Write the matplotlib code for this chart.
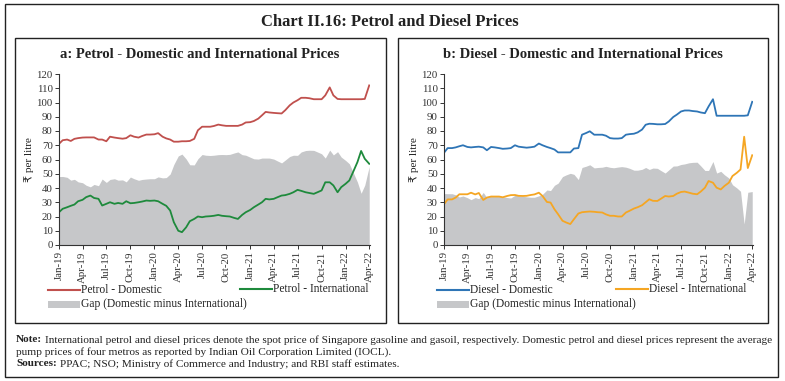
import numpy as np
import pandas as pd
import matplotlib
matplotlib.use('Agg')
import matplotlib.pyplot as plt
from matplotlib.patches import Rectangle
from matplotlib.lines import Line2D

plt.rcParams['font.family'] = ['Liberation Serif', 'DejaVu Sans']

# semi-monthly observations (1st and 15th), Jan-2019 to Apr-2022
dates = pd.date_range('2019-01-01', '2022-04-01', freq='SMS')

petrol_dom = [71, 73.5, 74, 73, 74.5, 75, 75.4, 75.5, 75.5, 75.5, 74, 74,
              72.8, 76, 75.4, 75, 74.6, 75, 77, 76, 75.4, 76.5, 77.5, 77.5,
              77.7, 78.5, 76, 74.8, 74, 72.5, 72.5, 72.8, 72.8, 73, 74.5, 80.5,
              83, 83, 83, 83.5, 84.5, 84, 83.6, 83.6, 83.6, 83.6, 84.5, 86,
              86.2, 87, 88.7, 91, 93.4, 93, 92.7, 92.5, 92.3, 94.6, 98, 100,
              101.6, 103.3, 103.3, 103, 102.3, 102.3, 102.3, 105, 110.6, 105, 102.5, 102.3,
              102.3, 102.3, 102.3, 102.3, 102.3, 102.5, 112]
petrol_int = [23, 25.4, 26.5, 27.5, 28.4, 30.7, 31.7, 33.6, 34.7, 33, 32.4, 27.7,
              28.9, 30, 28.9, 29.5, 28.9, 30.7, 29.3, 29.5, 30, 30.5, 31.2, 31,
              31.2, 30.7, 28.9, 27.5, 24.2, 16, 10, 9, 12.4, 16.7, 18.3, 20,
              19.5, 20, 20.2, 20.5, 21.1, 20.5, 20.2, 20, 19, 18.3, 21.1, 23,
              24.6, 26.5, 28.4, 30, 32.4, 32, 32.4, 33.5, 34.7, 35, 35.9, 37,
              38.7, 38, 37, 36.5, 35.9, 37, 38.3, 44, 44, 41.8, 37, 40.6,
              43, 45.3, 52.3, 58.2, 66, 60.5, 57]
diesel_dom = [64.7, 68, 68, 68.5, 69.3, 70, 68.8, 68.5, 68.8, 69, 68.5, 66.5,
              68.8, 68.5, 68, 67.5, 67.7, 68, 70, 69, 68.6, 68.3, 68.6, 69,
              71.2, 70, 68.8, 68, 67, 65, 65, 65, 65, 67.7, 68, 77.4,
              78.6, 79.8, 77.4, 77.4, 77.4, 76.7, 75, 74.7, 74.7, 75, 77.4, 77.8,
              78.1, 79, 81, 84.4, 85.1, 85, 84.7, 84.7, 84.9, 86.7, 89.8, 91.5,
              93.7, 94.4, 94.4, 94, 93.7, 93, 92.5, 97.2, 102.3, 90.7, 90.7, 90.7,
              90.7, 90.7, 90.7, 90.7, 90.7, 91, 100.5]
diesel_int = [28.6, 32, 32, 33.3, 35.6, 35.6, 35.6, 36.7, 35.5, 36.5, 31.6, 33.3,
              34, 34, 34, 33.5, 34.4, 35, 35.1, 34.5, 34.4, 34.5, 35.1, 35.5,
              36.7, 34.4, 30.2, 29.8, 25.1, 21.6, 17, 15.8, 14.7, 18.1, 22.1, 23,
              23.3, 23.5, 23.3, 23, 22.8, 21.5, 20.5, 20.5, 20, 20, 22.8, 24,
              25.6, 26.5, 27.9, 30, 32.1, 31, 30.9, 32.5, 34.4, 34, 34.4, 36,
              37.2, 37.5, 36.7, 36, 35.6, 37.5, 40.2, 44.9, 43.7, 40.2, 39, 41.4,
              43.7, 48.4, 50.7, 53, 76, 54, 63]

tick_dates = pd.date_range('2019-01-01', '2022-04-01', freq='3MS')
tick_labels = [d.strftime('%b-%y') for d in tick_dates]

W, H = 785, 381
fig = plt.figure(figsize=(W / 100, H / 100), dpi=100)

def fx(x):
    return x / W

def fy(y):
    return 1 - y / H

def box(x0, y0, x1, y1, lw=1.0):
    fig.patches.append(Rectangle((fx(x0), fy(y1)), fx(x1) - fx(x0), fy(y0) - fy(y1),
                                 transform=fig.transFigure, fill=False,
                                 edgecolor='#222222', linewidth=lw))

box(5, 4, 778, 377)
box(15, 38, 386, 323)
box(398, 38, 768, 323)

fig.text(fx(390), fy(22), 'Chart II.16: Petrol and Diesel Prices', ha='center', va='center',
         fontsize=12, fontweight='bold', color='#222222')

gap_color = '#c6c7c9'
txt = '#222222'

def panel(left, right, title, title_x, dom, intl, c_dom, c_int, lab_dom, lab_int, leg_x, leg2_x):
    ax = fig.add_axes([fx(left), fy(245), fx(right) - fx(left), fy(74) - fy(245)])
    dom = np.array(dom)
    intl = np.array(intl)
    ax.fill_between(dates, 0, dom - intl, color=gap_color, linewidth=0)
    ax.plot(dates, dom, color=c_dom, linewidth=1.3)
    ax.plot(dates, intl, color=c_int, linewidth=1.3)
    ax.set_ylim(0, 120)
    ax.set_yticks(range(0, 121, 10))
    ax.set_xlim(pd.Timestamp('2019-01-01'), pd.Timestamp('2022-04-04'))
    ax.set_xticks(tick_dates)
    ax.set_xticklabels(tick_labels, rotation=90)
    for s in ['top', 'right']:
        ax.spines[s].set_visible(False)
    for s in ['left', 'bottom']:
        ax.spines[s].set_color('#333333')
        ax.spines[s].set_linewidth(0.8)
    ax.tick_params(labelsize=7.8, length=3, width=0.7, colors='#333333', pad=1.5)
    ax.set_ylabel('₹ per litre', fontsize=8, color=txt, labelpad=2)
    fig.text(fx(title_x), fy(55), title, ha='center', va='center',
             fontsize=10.5, fontweight='bold', color=txt)
    # legend
    fig.lines.append(Line2D([fx(leg_x), fx(leg_x + 32)], [fy(290), fy(290)],
                            transform=fig.transFigure, color=c_dom, linewidth=1.5))
    fig.text(fx(leg_x + 33), fy(290), lab_dom, va='center', fontsize=8.3, color=txt)
    fig.lines.append(Line2D([fx(leg2_x), fx(leg2_x + 32)], [fy(289), fy(289)],
                            transform=fig.transFigure, color=c_int, linewidth=1.5))
    fig.text(fx(leg2_x + 33), fy(289), lab_int, va='center', fontsize=8.3, color=txt)
    fig.patches.append(Rectangle((fx(leg_x), fy(308)), fx(32), fy(0) - fy(7),
                                 transform=fig.transFigure, color=gap_color, linewidth=0))
    fig.text(fx(leg_x + 33), fy(304.5), 'Gap (Domestic minus International)', va='center',
             fontsize=8.3, color=txt)
    return ax

panel(59, 370, 'a: Petrol - Domestic and International Prices', 200,
      petrol_dom, petrol_int, '#c0504d', '#1e8a3c',
      'Petrol - Domestic', 'Petrol - International', 48, 240)
panel(444, 753, 'b: Diesel - Domestic and International Prices', 583,
      diesel_dom, diesel_int, '#2e75b6', '#f5a623',
      'Diesel - Domestic', 'Diesel - International', 437, 616)

fs_note = 8.1
fig.text(fx(16), fy(340), 'Note:', va='center', fontsize=fs_note, fontweight='bold', color=txt)
fig.text(fx(45), fy(340), 'International petrol and diesel prices denote the spot price of Singapore '
         'gasoline and gasoil, respectively. Domestic petrol and diesel prices represent the average',
         va='center', fontsize=fs_note, color=txt)
fig.text(fx(16), fy(352), 'pump prices of four metros as reported by Indian Oil Corporation Limited (IOCL).',
         va='center', fontsize=fs_note, color=txt)
fig.text(fx(16), fy(364), 'Sources:', va='center', fontsize=fs_note, fontweight='bold', color=txt)
fig.text(fx(60), fy(364), 'PPAC; NSO; Ministry of Commerce and Industry; and RBI staff estimates.',
         va='center', fontsize=fs_note, color=txt)

fig.savefig('out.png', dpi=100)
